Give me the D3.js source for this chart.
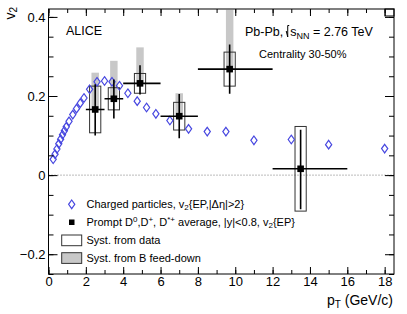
<!DOCTYPE html>
<html>
<head>
<meta charset="UTF-8"/>
<title>D meson v2</title>
<script src="https://d3js.org/d3.v7.min.js"></script>
<style>
body { margin: 0; background: #fff; }
svg { display: block; }
text { font-family: 'Liberation Sans', Arial, sans-serif; fill: #000; }
.tick text { font-size: 13px; }
.lab { font-size: 11px; }
</style>
</head>
<body>
<svg width="407" height="314"></svg>
<script>
// charged particles v2{EP,|deta|>2}
const chPt = [0.25, 0.35, 0.45, 0.55, 0.65, 0.75, 0.85, 0.95, 1.1, 1.3, 1.5, 1.7, 1.9, 2.2,
  2.6, 3.0, 3.4, 3.8, 4.25, 4.75, 5.25, 5.75, 6.5, 7.5, 8.5, 9.5, 11, 13, 15, 18];
const chV2 = [0.040, 0.053, 0.066, 0.079, 0.091, 0.102, 0.112, 0.122, 0.136, 0.153, 0.168, 0.182, 0.195, 0.217,
  0.236, 0.238, 0.236, 0.226, 0.207, 0.187, 0.171, 0.155, 0.138, 0.117, 0.110, 0.110, 0.088, 0.090, 0.077, 0.067];

// prompt D average
const dPt = [2.5, 3.5, 4.9, 7.0, 9.7, 13.5];
const dLo = [2, 3, 4, 6, 8, 12];
const dHi = [3, 4, 6, 8, 12, 16];
const dV2 = [0.166, 0.193, 0.232, 0.149, 0.268, 0.016];
const dStatUp = [0.064, 0.049, 0.046, 0.056, 0.062, 0.099];
const dStatDn = [0.066, 0.050, 0.028, 0.056, 0.062, 0.102];
const dSystData = [0.059, 0.028, 0.025, 0.035, 0.043, 0.107];
const dSystB = [0.093, 0.096, 0.091, 0.058, 0.15, 0];

const xTicks = [0, 2, 4, 6, 8, 10, 12, 14, 16, 18];
const yTicks = [-0.2, 0, 0.2, 0.4];

const svg = d3.select('svg');
const pL = 48.5, pR = 394, pT = 9, pB = 274;

const x = d3.scaleLinear().domain([0, 18.5]).range([pL, pR]);
const y = d3.scaleLinear().domain([-0.25, 0.42]).range([pB, pT]);

svg.append('clipPath').attr('id', 'frame')
  .append('rect').attr('x', pL).attr('y', pT).attr('width', pR - pL).attr('height', pB - pT);

const plot = svg.append('g').attr('clip-path', 'url(#frame)');

// zero line
plot.append('line')
  .attr('x1', x(0)).attr('x2', pR)
  .attr('y1', y(0)).attr('y2', y(0))
  .attr('stroke', '#777').attr('stroke-width', 1).attr('stroke-dasharray', '1,2');

const dData = dPt.map((p, i) => ({ pt: p, lo: dLo[i], hi: dHi[i], v: dV2[i],
  su: dStatUp[i], sd: dStatDn[i], sys: dSystData[i], b: dSystB[i] }));

// B feed-down syst (grey)
plot.selectAll('.bsys').data(dData.filter(d => d.b > 0)).enter()
  .append('rect')
  .attr('x', d => x(d.pt - 0.2)).attr('width', d => x(d.pt + 0.2) - x(d.pt - 0.2))
  .attr('y', d => y(d.v + d.b)).attr('height', d => y(d.v) - y(d.v + d.b))
  .attr('fill', '#c8c8c8');

// syst from data (open boxes)
plot.selectAll('.dsys').data(dData).enter()
  .append('rect')
  .attr('x', d => x(d.pt - 0.3)).attr('width', d => x(d.pt + 0.3) - x(d.pt - 0.3))
  .attr('y', d => y(d.v + d.sys)).attr('height', d => y(d.v - d.sys) - y(d.v + d.sys))
  .attr('fill', 'none').attr('stroke', '#333').attr('stroke-width', 1);

// charged particles
const diamond = 'M0,-4.3L3.1,0L0,4.3L-3.1,0Z';
plot.selectAll('.ch').data(chPt).enter()
  .append('path')
  .attr('d', diamond)
  .attr('transform', (p, i) => `translate(${x(p)},${y(chV2[i])})`)
  .attr('fill', 'none').attr('stroke', '#4848e0').attr('stroke-width', 1.2);

// stat errors
plot.selectAll('.ex').data(dData).enter()
  .append('line')
  .attr('x1', d => x(d.lo)).attr('x2', d => x(d.hi))
  .attr('y1', d => y(d.v)).attr('y2', d => y(d.v))
  .attr('stroke', '#000').attr('stroke-width', 1.6);
plot.selectAll('.ey').data(dData).enter()
  .append('line')
  .attr('x1', d => x(d.pt)).attr('x2', d => x(d.pt))
  .attr('y1', d => y(d.v + d.su)).attr('y2', d => y(d.v - d.sd))
  .attr('stroke', '#000').attr('stroke-width', 1.6);
plot.selectAll('.mk').data(dData).enter()
  .append('rect')
  .attr('x', d => x(d.pt) - 3.3).attr('y', d => y(d.v) - 3.3)
  .attr('width', 6.6).attr('height', 6.6).attr('fill', '#000');

// axes, ticks inside on all four sides
function strip(g) { g.select('.domain').remove(); g.selectAll('line').attr('stroke', '#000'); }
const xMinor = d3.range(0, 18.5, 1);
const yMinor = d3.range(-0.25, 0.42, 0.05);

svg.append('g').attr('transform', `translate(0,${pB})`)
  .call(d3.axisBottom(x).tickValues(xTicks).tickSize(-7).tickPadding(3).tickFormat(d3.format('d')))
  .call(strip);
svg.append('g').attr('transform', `translate(0,${pB})`)
  .call(d3.axisBottom(x).tickValues(xMinor).tickSize(-4).tickFormat(''))
  .call(strip);
svg.append('g').attr('transform', `translate(0,${pT})`)
  .call(d3.axisTop(x).tickValues(xTicks).tickSize(-7).tickFormat(''))
  .call(strip);
svg.append('g').attr('transform', `translate(0,${pT})`)
  .call(d3.axisTop(x).tickValues(xMinor).tickSize(-4).tickFormat(''))
  .call(strip);

svg.append('g').attr('transform', `translate(${pL},0)`)
  .call(d3.axisLeft(y).tickValues(yTicks).tickSize(-9).tickPadding(3).tickFormat(d => d === 0 ? '0' : d3.format('.1f')(d)))
  .call(strip);
svg.append('g').attr('transform', `translate(${pL},0)`)
  .call(d3.axisLeft(y).tickValues(yMinor).tickSize(-5).tickFormat(''))
  .call(strip);
svg.append('g').attr('transform', `translate(${pR},0)`)
  .call(d3.axisRight(y).tickValues(yTicks).tickSize(-9).tickFormat(''))
  .call(strip);
svg.append('g').attr('transform', `translate(${pR},0)`)
  .call(d3.axisRight(y).tickValues(yMinor).tickSize(-5).tickFormat(''))
  .call(strip);

svg.selectAll('.tick text').attr('fill', '#000');

// frame
svg.append('rect')
  .attr('x', pL).attr('y', pT).attr('width', pR - pL).attr('height', pB - pT)
  .attr('fill', 'none').attr('stroke', '#000').attr('stroke-width', 1);
svg.append('rect')
  .attr('x', 385).attr('y', pT).attr('width', pR - 385).attr('height', 7)
  .attr('fill', 'none').attr('stroke', '#000').attr('stroke-width', 1);

// axis titles
const xt = svg.append('text')
  .attr('x', 393).attr('y', 305).attr('text-anchor', 'end').style('font-size', '14px');
xt.append('tspan').text('p');
xt.append('tspan').attr('dy', 3).style('font-size', '10px').text('T');
xt.append('tspan').attr('dy', -3).text(' (GeV/c)');

const yt = svg.append('text')
  .attr('transform', 'translate(15,7) rotate(-90)')
  .attr('text-anchor', 'end').style('font-size', '14px');
yt.append('tspan').text('v');
yt.append('tspan').attr('dy', 2).style('font-size', '10px').text('2');

// labels
svg.append('text').attr('x', 66).attr('y', 34.5).style('font-size', '12.5px').text('ALICE');

const pb = svg.append('text').attr('x', 245).attr('y', 35.5).style('font-size', '12.5px').text('Pb-Pb,');
const pbw = pb.node().getComputedTextLength();
const rx = 245 + pbw + 4.5;
svg.append('path')
  .attr('d', `M${rx - 1.5},31 L${rx},${37} L${rx},25.5 L${rx + 1.5},25.5`)
  .attr('fill', 'none').attr('stroke', '#000').attr('stroke-width', 1);
const sq = svg.append('text').attr('x', rx + 2.5).attr('y', 35.5).style('font-size', '12.5px');
sq.append('tspan').text('s');
sq.append('tspan').attr('dy', 3).style('font-size', '9px').text('NN');
sq.append('tspan').attr('dy', -3).text(' = 2.76 TeV');

svg.append('text').attr('x', 259).attr('y', 57.5).style('font-size', '11px').text('Centrality 30-50%');

// legend
const lx = 86.5;
svg.append('path').attr('d', diamond).attr('transform', 'translate(71.7,204.3)')
  .attr('fill', 'none').attr('stroke', '#4848e0').attr('stroke-width', 1.2);
const l1 = svg.append('text').attr('class', 'lab').attr('x', lx).attr('y', 208);
l1.append('tspan').text('Charged particles, v');
l1.append('tspan').attr('dy', 2).style('font-size', '8px').text('2');
l1.append('tspan').attr('dy', -2).text('{EP,|\u0394\u03b7|>2}');

svg.append('rect').attr('x', 69).attr('y', 219.5).attr('width', 5.5).attr('height', 5.5).attr('fill', '#000');
const l2 = svg.append('text').attr('class', 'lab').attr('x', lx).attr('y', 226);
l2.append('tspan').text('Prompt D');
l2.append('tspan').attr('dy', -4).style('font-size', '8px').text('0');
l2.append('tspan').attr('dy', 4).text(',D');
l2.append('tspan').attr('dy', -4).style('font-size', '8px').text('+');
l2.append('tspan').attr('dy', 4).text(', D');
l2.append('tspan').attr('dy', -4).style('font-size', '8px').text('*+');
l2.append('tspan').attr('dy', 4).text(' average, |y|<0.8, v');
l2.append('tspan').attr('dy', 2).style('font-size', '8px').text('2');
l2.append('tspan').attr('dy', -2).text('{EP}');

svg.append('rect').attr('x', 61.7).attr('y', 235).attr('width', 20).attr('height', 10.7)
  .attr('fill', '#fff').attr('stroke', '#333').attr('stroke-width', 1);
svg.append('text').attr('class', 'lab').attr('x', lx).attr('y', 244).text('Syst. from data');

svg.append('rect').attr('x', 61.7).attr('y', 252.7).attr('width', 20).attr('height', 10.7)
  .attr('fill', '#c8c8c8').attr('stroke', '#333').attr('stroke-width', 1);
svg.append('text').attr('class', 'lab').attr('x', lx).attr('y', 261.5).text('Syst. from B feed-down');
</script>
</body>
</html>
